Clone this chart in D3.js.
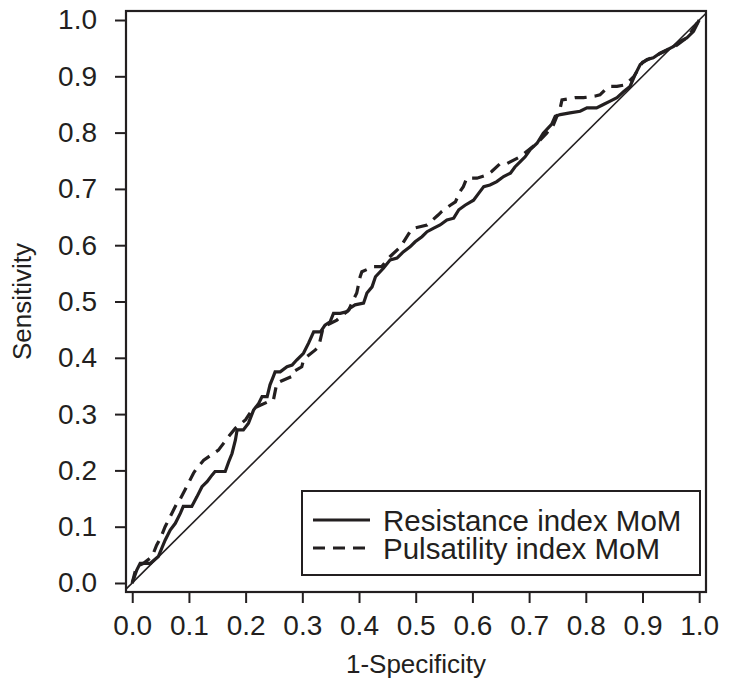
<!doctype html>
<html lang="en">
<head>
  <meta charset="utf-8">
  <title>ROC curves</title>
  <style>
   body { margin: 0; background: #fff; }
   text { font-family: "Liberation Sans", Arial, sans-serif; fill: #231f20; }
   .axis line { stroke: #231f20; stroke-width: 2; }
   .axis text { font-size: 28px; }
  </style>
</head>
<body>
<svg id="chart" width="729" height="695" xmlns="http://www.w3.org/2000/svg"></svg>
<script src="https://d3js.org/d3.v7.min.js"></script>
<script>
 // 1-specificity / sensitivity pairs
 var resistanceFpr = [0,.008,.014,.032,.046,.058,.067,.076,.085,.09,.105,.114,.123,.132,.141,.146,.164,.17,.176,.182,.185,.196,.205,.214,.223,.229,.238,.243,.249,.252,.261,.273,.282,.29,.302,.311,.32,.332,.34,.349,.355,.367,.379,.384,.393,.408,.414,.423,.429,.443,.455,.467,.478,.49,.499,.511,.52,.531,.543,.555,.567,.576,.587,.602,.611,.62,.631,.643,.655,.667,.675,.684,.693,.702,.714,.725,.74,.746,.755,.772,.79,.802,.819,.831,.843,.855,.867,.878,.887,.896,.908,.919,.931,.943,.955,.966,.978,.99,1];
 var resistanceTpr = [0,.023,.035,.035,.047,.076,.094,.106,.124,.136,.136,.153,.171,.18,.192,.198,.198,.215,.23,.254,.272,.272,.284,.307,.319,.331,.331,.352,.367,.375,.375,.384,.387,.396,.408,.426,.446,.446,.458,.464,.479,.479,.482,.488,.494,.497,.515,.526,.544,.559,.574,.577,.588,.597,.606,.615,.624,.63,.636,.645,.648,.663,.671,.68,.692,.704,.707,.713,.722,.728,.739,.748,.757,.77,.781,.799,.815,.829,.832,.835,.838,.844,.844,.85,.856,.862,.873,.882,.903,.921,.93,.933,.941,.947,.953,.962,.968,.98,1];

 var pulsatilityFpr = [0,.005,.01,.02,.035,.043,.05,.058,.07,.079,.085,.096,.108,.114,.126,.143,.152,.161,.17,.182,.2,.211,.22,.24,.249,.255,.261,.282,.284,.299,.302,.308,.323,.329,.337,.361,.382,.39,.396,.402,.405,.426,.44,.455,.473,.49,.496,.52,.54,.546,.561,.57,.578,.584,.59,.608,.626,.634,.649,.661,.684,.714,.731,.743,.755,.758,.781,.796,.817,.825,.837,.843,.855,.87,.885,.9,.92,.94,.96,.98,.99,1];
 var pulsatilityTpr = [0,.02,.03,.035,.047,.067,.08,.1,.124,.142,.15,.171,.195,.204,.218,.23,.236,.248,.26,.275,.29,.307,.313,.322,.325,.355,.358,.367,.375,.384,.396,.402,.414,.42,.455,.467,.485,.503,.515,.544,.553,.562,.562,.58,.597,.624,.63,.636,.654,.66,.671,.677,.695,.704,.719,.719,.725,.731,.745,.745,.757,.781,.799,.814,.844,.858,.862,.862,.865,.867,.879,.882,.882,.885,.9,.925,.935,.945,.955,.97,.985,1];

 var tickValues = [0, .1, .2, .3, .4, .5, .6, .7, .8, .9, 1];
 var legendLabels = ["Resistance index MoM", "Pulsatility index MoM"];

 var svg = d3.select("#chart");
 var frame = {left: 126, right: 706, top: 11, bottom: 592};

 var x = d3.scaleLinear().domain([-0.011, 1.012]).range([frame.left, frame.right]);
 var y = d3.scaleLinear().domain([-0.016, 1.016]).range([frame.bottom, frame.top]);

 var fmt = d3.format(".1f");

 // axes (ticks only, the frame is drawn as a box)
 var xAxis = svg.append("g")
   .attr("class", "axis")
   .attr("transform", "translate(0," + frame.bottom + ")")
   .call(d3.axisBottom(x).tickValues(tickValues).tickFormat(fmt).tickSize(11).tickPadding(12));
 xAxis.select(".domain").remove();
 xAxis.selectAll("text").attr("fill", "#231f20");

 var yAxis = svg.append("g")
   .attr("class", "axis")
   .attr("transform", "translate(" + frame.left + ",0)")
   .call(d3.axisLeft(y).tickValues(tickValues).tickFormat(fmt).tickSize(11).tickPadding(18));
 yAxis.select(".domain").remove();
 yAxis.selectAll("text").attr("fill", "#231f20");

 // reference diagonal
 svg.append("line")
   .attr("x1", x(-0.011)).attr("y1", y(-0.011))
   .attr("x2", x(1.012)).attr("y2", y(1.012))
   .attr("stroke", "#231f20")
   .attr("stroke-width", 1.6);

 var line = d3.line()
   .x(function(d) { return x(d[0]); })
   .y(function(d) { return y(d[1]); });

 var resistance = d3.zip(resistanceFpr, resistanceTpr);
 var pulsatility = d3.zip(pulsatilityFpr, pulsatilityTpr);

 svg.append("path")
   .datum(pulsatility)
   .attr("d", line)
   .attr("fill", "none")
   .attr("stroke", "#231f20")
   .attr("stroke-width", 3.2)
   .attr("stroke-dasharray", "12,8");

 svg.append("path")
   .datum(resistance)
   .attr("d", line)
   .attr("fill", "none")
   .attr("stroke", "#231f20")
   .attr("stroke-width", 3.2)
   .attr("stroke-linejoin", "miter");

 // frame
 svg.append("rect")
   .attr("x", frame.left).attr("y", frame.top)
   .attr("width", frame.right - frame.left)
   .attr("height", frame.bottom - frame.top)
   .attr("fill", "none")
   .attr("stroke", "#231f20")
   .attr("stroke-width", 2.2);

 // axis titles
 svg.append("text")
   .attr("x", (frame.left + frame.right) / 2)
   .attr("y", 673)
   .attr("text-anchor", "middle")
   .attr("font-size", 26)
   .text("1-Specificity");

 svg.append("text")
   .attr("transform", "translate(31," + ((frame.top + frame.bottom) / 2) + ") rotate(-90)")
   .attr("text-anchor", "middle")
   .attr("font-size", 26)
   .text("Sensitivity");

 // legend
 var legend = svg.append("g").attr("transform", "translate(302,491)");
 legend.append("rect")
   .attr("width", 398).attr("height", 84)
   .attr("fill", "#fff")
   .attr("stroke", "#231f20")
   .attr("stroke-width", 2);

 var items = legend.selectAll("g.item")
   .data(legendLabels)
   .enter().append("g")
   .attr("class", "item")
   .attr("transform", function(d, i) { return "translate(0," + (29 + i * 28) + ")"; });

 items.append("line")
   .attr("x1", 11).attr("x2", 68)
   .attr("stroke", "#231f20")
   .attr("stroke-width", 3.2)
   .attr("stroke-dasharray", function(d, i) { return i ? "12,8" : null; });

 items.append("text")
   .attr("x", 81)
   .attr("dy", "0.36em")
   .attr("font-size", 29.5)
   .text(function(d) { return d; });
</script>
</body>
</html>
